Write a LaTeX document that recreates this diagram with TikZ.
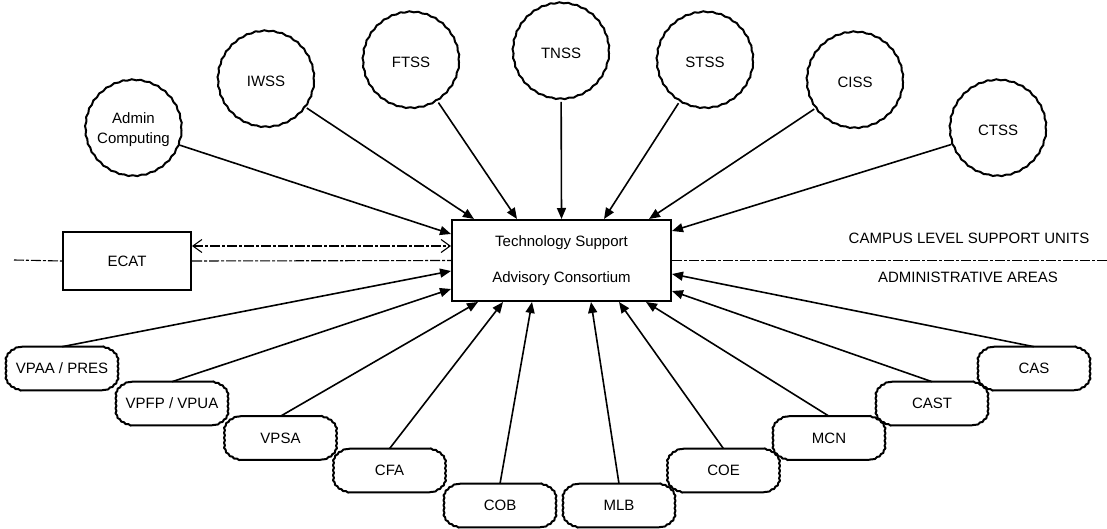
\documentclass[tikz,border=0pt]{standalone}
\usepackage{fontspec}
\setmainfont{Liberation Sans}
\usetikzlibrary{arrows.meta, decorations.pathmorphing}

\begin{document}
\begin{tikzpicture}[
        x=1pt, y=-1pt,
        font=\fontsize{15}{20}\selectfont,
        line width=1.6pt,
        support/.style={circle, draw, line width=2pt, minimum size=96pt, inner sep=0pt, align=center,
            decorate, decoration={snake, segment length=9pt, amplitude=0.5pt}},
        unit/.style={minimum width=108pt, minimum height=42pt, inner sep=0pt},
        wavy/.style={decoration={snake, segment length=5pt, amplitude=0.5pt}},
        bigbox/.style={draw, line width=2pt, align=center},
        link/.style={-{Triangle[length=11pt,width=9pt]}},
        sep/.style={line width=1.1pt, dash pattern=on 10pt off 2pt on 3pt off 2pt}
    ]

    \fill[white] (0,0) rectangle (1107,529);
    \useasboundingbox (0,0) rectangle (1107,529);

    % Central consortium & ECAT
    \node[bigbox, minimum width=219pt, minimum height=81pt] (tsac) at (561.5,260.5)
        {Technology Support\\[16pt]Advisory Consortium};
    \node[bigbox, minimum width=128pt, minimum height=58pt] (ecat) at (127,261) {ECAT};

    % Campus level support units
    \node[support] (admin) at (133.5,130) {Admin\\Computing};
    \node[support] (iwss) at (266,81) {IWSS};
    \node[support] (ftss) at (411,62) {FTSS};
    \node[support] (tnss) at (561,53) {TNSS};
    \node[support] (stss) at (705,62) {STSS};
    \node[support] (ciss) at (855,82) {CISS};
    \node[support] (ctss) at (998,130) {CTSS};

    % Administrative areas
    \node[unit] (vpaa) at (62,368.5) {VPAA / PRES};
    \node[unit] (vpfp) at (172,403.5) {VPFP / VPUA};
    \node[unit] (vpsa) at (280.5,438) {VPSA};
    \node[unit] (cfa) at (389.5,470.5) {CFA};
    \node[unit] (cob) at (500,505.5) {COB};
    \node[unit] (mlb) at (619,505.5) {MLB};
    \node[unit] (coe) at (723.5,470.5) {COE};
    \node[unit] (mcn) at (829,438) {MCN};
    \node[unit] (cast) at (932,403.5) {CAST};
    \node[unit] (cas) at (1034,368.5) {CAS};

    % Outlines of the area boxes
    \foreach \u in {vpaa, vpfp, vpsa, cfa, cob, mlb, coe, mcn, cast, cas}
        \draw[line width=2pt, line join=round]
            ([xshift=15pt]\u.north west) -- ([xshift=-15pt]\u.north east)
            decorate[wavy] {.. controls ([xshift=-8pt,yshift=-1pt]\u.north east) and ([xshift=-1pt,yshift=-6pt]\u.north east) .. ([yshift=-12pt]\u.north east)
                -- ([yshift=12pt]\u.south east)
                .. controls ([xshift=-1pt,yshift=6pt]\u.south east) and ([xshift=-8pt,yshift=1pt]\u.south east) .. ([xshift=-15pt]\u.south east)}
            -- ([xshift=15pt]\u.south west)
            decorate[wavy] {.. controls ([xshift=8pt,yshift=1pt]\u.south west) and ([xshift=1pt,yshift=6pt]\u.south west) .. ([yshift=12pt]\u.south west)
                -- ([yshift=-12pt]\u.north west)
                .. controls ([xshift=1pt,yshift=-6pt]\u.north west) and ([xshift=8pt,yshift=-1pt]\u.north west) .. ([xshift=15pt]\u.north west)};

    % Level labels
    \node (campus) at (969,238) {CAMPUS LEVEL SUPPORT UNITS};
    \node (areas) at (968,277) {ADMINISTRATIVE AREAS};

    % Dividing line
    \coordinate (sepL) at (14,260);
    \coordinate (sepR) at (1107,260);
    \draw[sep] (sepL) -- (ecat.west);
    \draw[sep] (ecat.east) -- (tsac.west);
    \draw[sep] (tsac.east) -- (tsac.east -| sepR);
    \draw[sep, {Straight Barb[length=9pt,width=13pt]}-{Straight Barb[length=9pt,width=13pt]}]
        ([yshift=15pt]ecat.east) -- ([yshift=15pt]ecat.east -| tsac.west);

    % Support units into the consortium
    \draw[link] (admin) -- ([yshift=-15pt]tsac.north west);
    \draw[link] (iwss) -- ([xshift=23pt]tsac.north west);
    \draw[link] (ftss) -- ([xshift=66pt]tsac.north west);
    \draw[link] (tnss) -- (tsac.north);
    \draw[link] (stss) -- ([xshift=-68pt]tsac.north east);
    \draw[link] (ciss) -- ([xshift=-23pt]tsac.north east);
    \draw[link] (ctss) -- ([yshift=-12pt]tsac.north east);

    % Areas into the consortium
    \draw[link] (vpaa.north) -- ([yshift=-52pt]tsac.north west);
    \draw[link] (vpfp.north) -- ([yshift=13pt]tsac.south west);
    \draw[link] (vpsa.north) -- ([xshift=27pt]tsac.south west);
    \draw[link] (cfa.north) -- ([xshift=52pt]tsac.south west);
    \draw[link] (cob.north) -- ([xshift=81pt]tsac.south west);
    \draw[link] (mlb.north) -- ([xshift=-81pt]tsac.south east);
    \draw[link] (coe.north) -- ([xshift=-53pt]tsac.south east);
    \draw[link] (mcn.north) -- ([xshift=-26pt]tsac.south east);
    \draw[link] (cast.north) -- ([yshift=11pt]tsac.south east);
    \draw[link] (cas.north) -- ([yshift=-55pt]tsac.north east);
\end{tikzpicture}
\end{document}
